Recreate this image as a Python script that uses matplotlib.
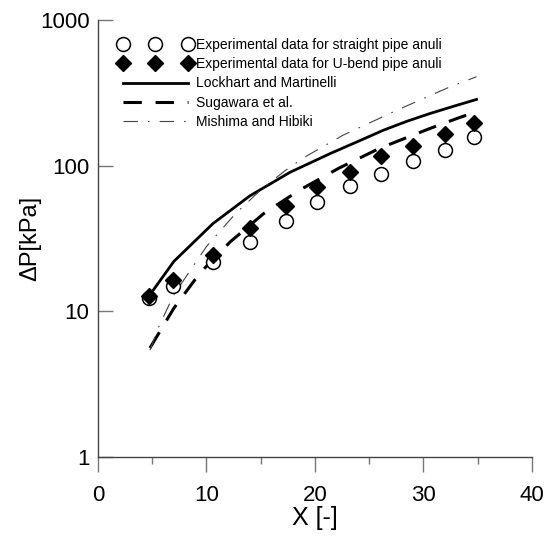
import matplotlib
matplotlib.use('Agg')
import matplotlib.pyplot as plt
from matplotlib.ticker import FixedLocator, NullLocator

plt.rcParams['font.family'] = ['Liberation Sans', 'DejaVu Sans']

# experimental data
x_exp = [4.7, 6.9, 10.6, 14.0, 17.3, 20.2, 23.2, 26.1, 29.0, 32.0, 34.7]
dp_straight = [12.3, 14.8, 21.7, 29.8, 42.0, 56.0, 72.0, 87.0, 108.0, 129.0, 157.0]
dp_ubend = [12.8, 16.5, 24.5, 37.5, 52.5, 71.0, 91.0, 116.0, 137.0, 165.0, 195.0]

# correlations
x_lm = [4.8, 7.0, 10.6, 14.0, 17.7, 21.4, 24.0, 26.3, 28.5, 30.6, 32.8, 34.9]
dp_lm = [13.0, 22.0, 40.0, 62.0, 90.0, 121.0, 147.0, 175.0, 202.0, 228.0, 256.0, 285.0]

x_sug = [4.8, 7.0, 9.4, 12.2, 15.3, 18.6, 22.2, 26.0, 30.6, 33.1, 34.9]
dp_sug = [5.6, 10.5, 18.3, 30.0, 47.0, 68.0, 96.0, 132.0, 180.0, 211.0, 235.0]

x_mh = [4.8, 5.6, 7.0, 8.7, 10.0, 12.7, 15.0, 17.3, 19.1, 22.6, 27.6, 32.5, 34.9]
dp_mh = [5.4, 7.8, 13.0, 20.0, 27.8, 47.0, 68.0, 93.0, 115.0, 162.0, 241.0, 349.0, 408.0]

fig = plt.figure(figsize=(5.5, 5.42), dpi=100)
ax = fig.add_axes([0.178, 0.157, 0.789, 0.806])

ax.plot(x_exp, dp_straight, 'o', ms=10, mfc='white', mec='black', mew=1.1,
        label='Experimental data for straight pipe anuli', zorder=3)
ax.plot(x_exp, dp_ubend, 'D', ms=8.5, mfc='black', mec='black',
        label='Experimental data for U-bend pipe anuli', zorder=4)
ax.plot(x_lm, dp_lm, '-', color='black', lw=2.0, label='Lockhart and Martinelli')
ax.plot(x_sug, dp_sug, color='black', lw=2.2, dashes=(6, 4.5), label='Sugawara et al.')
ax.plot(x_mh, dp_mh, color='#444444', lw=0.8, dashes=(13, 9, 1.5, 9),
        label='Mishima and Hibiki')

ax.set_yscale('log')
ax.set_xlim(0, 40)
ax.set_ylim(1, 1000)
ax.yaxis.set_major_locator(FixedLocator([1, 10, 100, 1000]))
ax.yaxis.set_minor_locator(NullLocator())
ax.set_yticklabels(['1', '10', '100', '1000'])
ax.set_xticks([0, 10, 20, 30, 40])
ax.set_xticks([5, 15, 25, 35], minor=True)

for s in ['top', 'right']:
    ax.spines[s].set_visible(False)
for s in ['left', 'bottom']:
    ax.spines[s].set_color('#444444')
    ax.spines[s].set_linewidth(1.0)

ax.tick_params(axis='y', which='major', direction='in', length=11, width=1,
               color='#777777', labelsize=16, pad=6)
ax.tick_params(axis='x', which='major', direction='out', length=11, width=1,
               color='#777777', labelsize=16, pad=9)
ax.tick_params(axis='x', which='minor', direction='out', length=5, width=1,
               color='#777777')

ax.set_xlabel('X [-]', fontsize=18, labelpad=0)
ax.set_ylabel('ΔP[kPa]', fontsize=17, labelpad=-1)

ax.legend(loc='upper left', numpoints=3, frameon=False, fontsize=10,
          handlelength=5.3, handletextpad=0.25, labelspacing=0.38,
          borderaxespad=0.0, bbox_to_anchor=(0.035, 0.972))

fig.savefig('out.png', dpi=100)
